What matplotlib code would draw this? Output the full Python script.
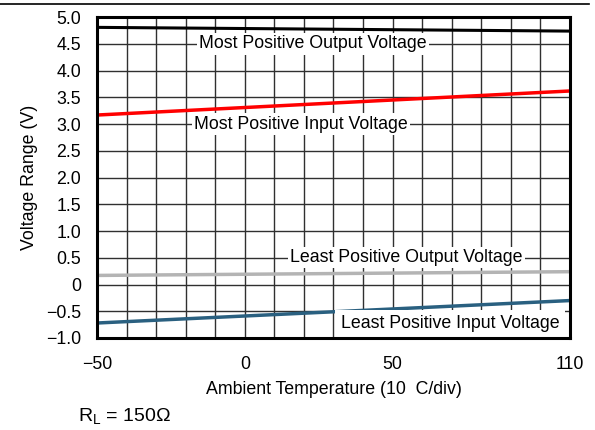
import matplotlib
matplotlib.use("Agg")
import matplotlib.pyplot as plt

plt.rcParams['font.family'] = ['Liberation Sans', 'DejaVu Sans']
plt.rcParams['font.size'] = 12.8

# temperatura (C) en los extremos
temp = [-50, 110]
# curvas (V)
out_max = [4.81, 4.74]
in_max = [3.17, 3.62]
out_min = [0.17, 0.24]
in_min = [-0.72, -0.30]

xticks = [-50, 0, 50, 110]
xtick_labels = ['\u221250', '0', '50', '110']
yticks = [-1.0, -0.5, 0, 0.5, 1.0, 1.5, 2.0, 2.5, 3.0, 3.5, 4.0, 4.5, 5.0]
ytick_labels = ['\u22121.0', '\u22120.5', '0', '0.5', '1.0', '1.5', '2.0',
                '2.5', '3.0', '3.5', '4.0', '4.5', '5.0']

fig = plt.figure(figsize=(5.95, 4.3), dpi=100)
ax = fig.add_axes([0.163, 0.214, 0.795, 0.746])

# grilla: cada 10 C y cada 0.5 V
for xv in range(-50, 111, 10):
    ax.axvline(xv, color='#303030', lw=1.0, zorder=1)
for yv in yticks:
    ax.axhline(yv, color='#303030', lw=1.0, zorder=1)

ax.plot(temp, out_max, color='black', lw=2.2, zorder=3)
ax.plot(temp, in_max, color='#ff0000', lw=2.5, zorder=3)
ax.plot(temp, out_min, color='#b4b4b4', lw=2.5, zorder=3)
ax.plot(temp, in_min, color='#2a6080', lw=2.5, zorder=3)

box = dict(facecolor='white', edgecolor='none', pad=1.5)
ax.text(23, 4.5, 'Most Positive Output Voltage', ha='center', va='center', bbox=box, zorder=4)
ax.text(19, 3.0, 'Most Positive Input Voltage', ha='center', va='center', bbox=box, zorder=4)
ax.text(54.7, 0.5, 'Least Positive Output Voltage', ha='center', va='center', bbox=box, zorder=4)
ax.text(69.4, -0.73, 'Least Positive Input Voltage', ha='center', va='center',
        bbox=dict(facecolor='white', edgecolor='none', pad=4), zorder=4)

ax.set_xlim(-50, 110)
ax.set_ylim(-1.0, 5.0)
ax.set_xticks(xticks)
ax.set_xticklabels(xtick_labels)
ax.set_yticks(yticks)
ax.set_yticklabels(ytick_labels)
ax.tick_params(length=0, pad=13)
ax.tick_params(axis='y', pad=11.5)
for s in ax.spines.values():
    s.set_linewidth(2.2)
    s.set_zorder(5)

ax.set_xlabel('Ambient Temperature (10  C/div)', labelpad=6)
ax.set_ylabel('Voltage Range (V)', labelpad=6)

fig.text(0.131, 0.02, r'R$_\mathregular{L}$ = 150Ω', fontsize=14)
fig.add_artist(plt.Line2D([0, 0.99], [0.99, 0.99], color='black', lw=1.2))

fig.savefig('out.png')
